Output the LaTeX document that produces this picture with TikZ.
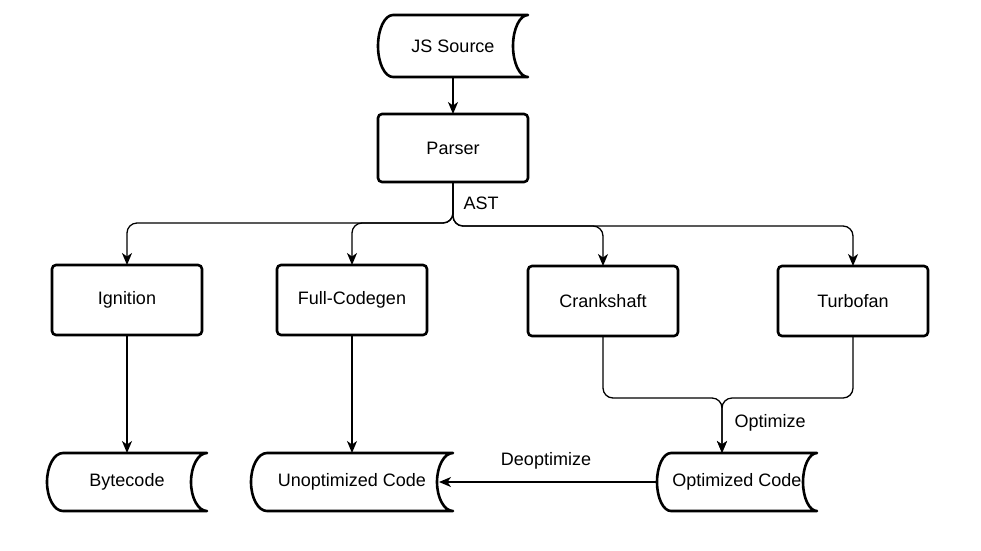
\documentclass[tikz,border=0pt]{standalone}
\usepackage{fontspec}
\setmainfont{Liberation Sans}
\usetikzlibrary{arrows.meta}
\tikzset{
  every node/.style={font=\fontsize{18}{21}\selectfont},
  procbox/.style={draw, line width=2.6pt, rounded corners=4pt, minimum width=150, minimum height=70, inner sep=0, outer sep=0},
  store/.style={draw=none, minimum height=58, inner sep=0, outer sep=0},
  boxline/.style={line width=2.6pt, line join=round},
  edge/.style={line width=1.3pt, rounded corners=10pt, -{Stealth[length=12pt,width=10pt,inset=3.5pt]}},
  lbl/.style={inner sep=0}
}
% #1 node, #2 s, #3 k*s, #4 k*h/2
\newcommand{\dstore}[4]{\draw[boxline] ([xshift=#2]#1.north west) -- (#1.north east)
  .. controls ([xshift=-#3]#1.north east) and ([xshift=-#2,yshift=#4]#1.east) .. ([xshift=-#2]#1.east)
  .. controls ([xshift=-#2,yshift=-#4]#1.east) and ([xshift=-#3]#1.south east) .. (#1.south east)
  -- ([xshift=#2]#1.south west)
  .. controls ([xshift=#2-#3]#1.south west) and ([yshift=-#4]#1.west) .. (#1.west)
  .. controls ([yshift=#4]#1.west) and ([xshift=#2-#3]#1.north west) .. ([xshift=#2]#1.north west) -- cycle;}
\begin{document}
\begin{tikzpicture}[x=1pt,y=-1pt]
\useasboundingbox (0,0) rectangle (981,550);
% nodes
\node[store, minimum width=150, minimum height=62] (js) at (453,46) {JS Source};
\dstore{js}{15}{8.3}{17}
\node[procbox, minimum height=68] (parser) at (453,148) {Parser};
\node[procbox] (ign) at (127,300) {Ignition};
\node[procbox] (fcg) at (352,300) {Full-Codegen};
\node[procbox] (crank) at (603,301) {Crankshaft};
\node[procbox] (turbo) at (853,301) {Turbofan};
\node[store, minimum width=160] (byte) at (127,482) {Bytecode};
\dstore{byte}{16}{8.8}{16}
\node[store, minimum width=202] (unopt) at (352,482) {Unoptimized Code};
\dstore{unopt}{16}{8.8}{16}
\node[store, minimum width=160] (opt) at (737,482) {Optimized Code};
\dstore{opt}{14}{7.7}{16}
% junctions
\coordinate (bl) at (453,223);
\coordinate (br) at (453,226);
\coordinate (m) at (722,398);
% edges
\draw[edge] (js.south) -- (parser.north);
\draw[edge] (parser.south) -- (bl) -| (ign.north);
\draw[edge] (parser.south) -- (bl) -| (fcg.north);
\draw[edge] (parser.south) -- (br) -| (crank.north);
\draw[edge] (parser.south) -- (br) -| (turbo.north);
\draw[edge] (ign.south) -- (byte.north);
\draw[edge] (fcg.south) -- (unopt.north);
\draw[edge] (crank.south) |- (m) -- (m |- opt.north);
\draw[edge] (turbo.south) |- (m) -- (m |- opt.north);
\draw[edge] (opt.west) -- ([xshift=-14]unopt.east);
% labels
\node[lbl] (ast) at (481,203) {AST};
\node[lbl] (optl) at (770,423) {Optimize};
\node[lbl] (deopt) at (546,461) {Deoptimize};
\end{tikzpicture}
\end{document}
